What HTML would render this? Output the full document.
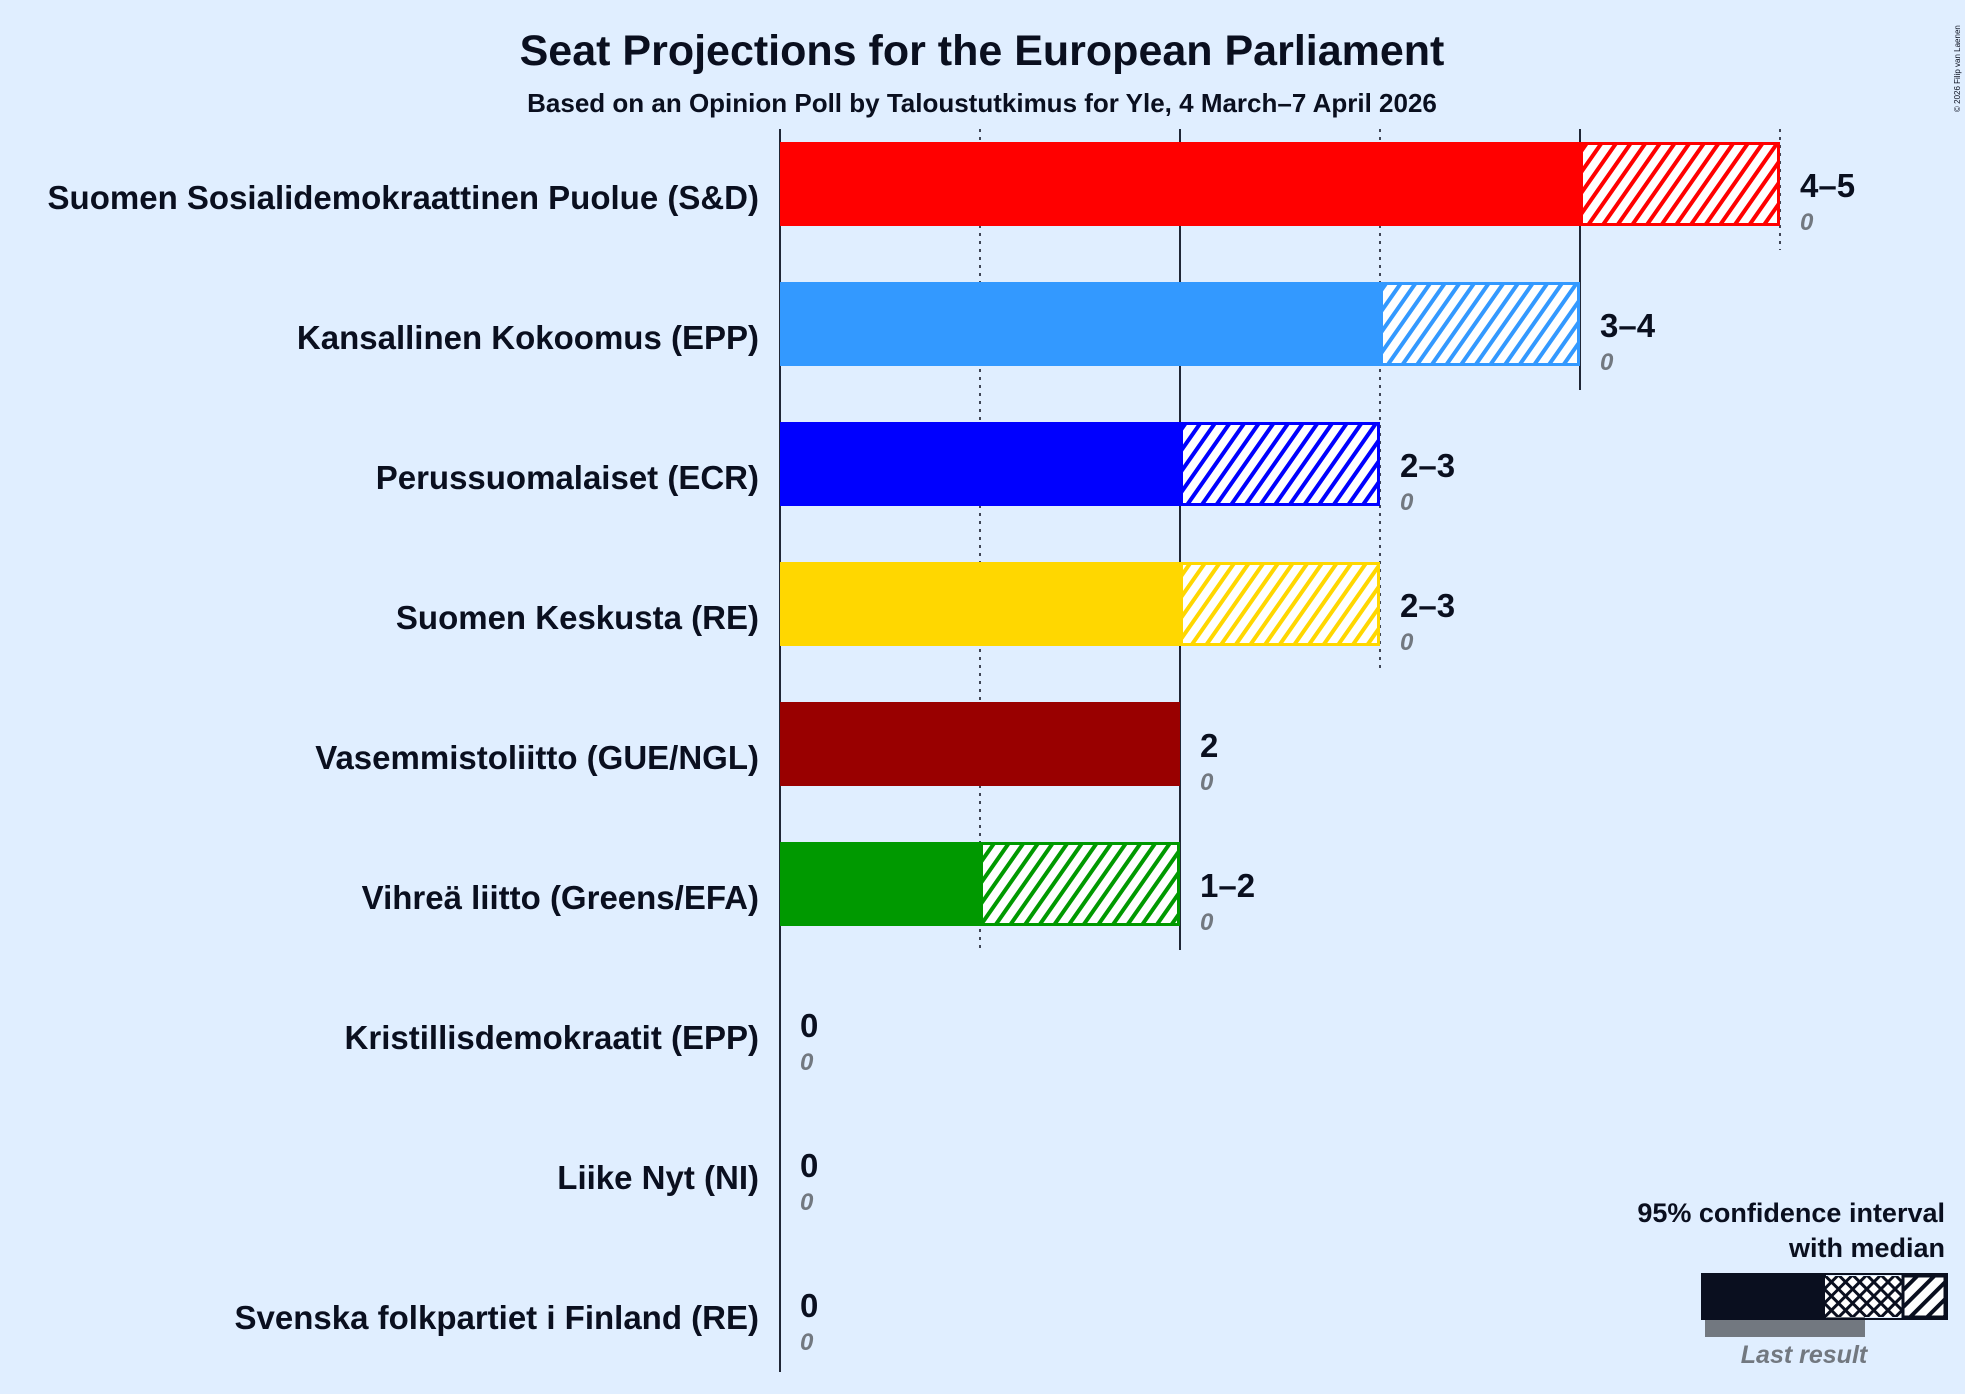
<!DOCTYPE html>
<html><head><meta charset="utf-8">
<style>
html,body{margin:0;padding:0;background:#E0EEFF;}
svg{display:block;font-family:"Liberation Sans",sans-serif;}
</style></head>
<body>
<svg id="chart" width="1965" height="1394" viewBox="0 0 1965 1394" xmlns="http://www.w3.org/2000/svg">
<defs>
<pattern id="hx" patternUnits="userSpaceOnUse" width="12" height="12" patternTransform="rotate(45)"><rect width="12" height="12" fill="#fff"/><rect width="4" height="12" fill="#0a0f1f"/></pattern>
<pattern id="cross" patternUnits="userSpaceOnUse" width="10" height="10" patternTransform="rotate(45)"><rect width="10" height="10" fill="#0a0f1f"/><rect x="3" y="3" width="7" height="7" fill="#fff"/></pattern>
</defs>
<rect width="1965" height="1394" fill="#E0EEFF"/>
<text x="982" y="65" text-anchor="middle" font-size="43" font-weight="bold" fill="#0a0f1f">Seat Projections for the European Parliament</text>
<text x="982" y="112" text-anchor="middle" font-size="26" font-weight="bold" fill="#0a0f1f">Based on an Opinion Poll by Taloustutkimus for Yle, 4 March–7 April 2026</text>
<text transform="translate(1960,112) rotate(-90)" font-size="8" fill="#0a0f1f">© 2026 Filip van Laenen</text>
<g id="grid"></g>
<g id="bars"></g>
<g>
<text x="1945" y="1222" text-anchor="end" font-size="27" font-weight="bold" fill="#0a0f1f">95% confidence interval</text>
<text x="1945" y="1257" text-anchor="end" font-size="27" font-weight="bold" fill="#0a0f1f">with median</text>
<rect x="1705" y="1315" width="160" height="22" fill="#727880"/>
<rect x="1702" y="1274" width="124" height="45" fill="#0a0f1f"/>
<rect x="1825" y="1276" width="78" height="41" fill="url(#cross)"/>
<rect x="1903" y="1276" width="42" height="41" fill="url(#hx)" stroke="#0a0f1f" stroke-width="3"/>
<rect x="1702" y="1274" width="245" height="45" fill="none" stroke="#0a0f1f" stroke-width="2"/>
<text x="1804" y="1363" text-anchor="middle" font-size="25" font-style="italic" font-weight="bold" fill="#727880">Last result</text>
</g>
</svg>
<script>
const parties = ["Suomen Sosialidemokraattinen Puolue (S&D)","Kansallinen Kokoomus (EPP)","Perussuomalaiset (ECR)","Suomen Keskusta (RE)","Vasemmistoliitto (GUE/NGL)","Vihreä liitto (Greens/EFA)","Kristillisdemokraatit (EPP)","Liike Nyt (NI)","Svenska folkpartiet i Finland (RE)"];
const lowSeats = [4,3,2,2,2,1,0,0,0];
const highSeats = [5,4,3,3,2,2,0,0,0];
const lastResult = [0,0,0,0,0,0,0,0,0];
const colors = ["#FF0000","#3399FF","#0000FF","#FFD700","#990000","#009900","#0a0f1f","#0a0f1f","#0a0f1f"];
const ticks = [0,1,2,3,4,5];

const NS="http://www.w3.org/2000/svg";
const x0=780, unit=200, rowTop=142, rowStep=140, barH=84;
const xs=v=>x0+v*unit;
const ys=i=>rowTop+i*rowStep;
function mk(tag,attrs,parent){const e=document.createElementNS(NS,tag);for(const k in attrs)e.setAttribute(k,attrs[k]);parent.appendChild(e);return e;}
const grid=document.getElementById('grid'), bars=document.getElementById('bars'), defs=document.querySelector('defs');

ticks.forEach(t=>{
  let last=-1; highSeats.forEach((h,i)=>{if(h>=t)last=i;});
  const yb = t===0 ? 1372 : ys(last)+barH+24;
  const ln=mk('line',{x1:xs(t),x2:xs(t),y1:129,y2:yb,stroke:'#0a0f1f','stroke-width':t%2===0?1.8:1.5},grid);
  if(t%2===1) ln.setAttribute('stroke-dasharray','3,5');
  
  
});

parties.forEach((p,i)=>{
  const y=ys(i), c=colors[i];
  const lab=mk('text',{x:759,y:y+67,'text-anchor':'end','font-size':33,'font-weight':'bold',fill:'#0a0f1f'},bars);
  lab.textContent=p;
  
  
  if(highSeats[i]>0){
    const pat=mk('pattern',{id:'h'+i,patternUnits:'userSpaceOnUse',width:12,height:12,patternTransform:'rotate(35)'},defs);
    mk('rect',{width:12,height:12,fill:'#fff'},pat);
    mk('rect',{width:4,height:12,fill:c},pat);
    if(highSeats[i]>lowSeats[i]){
      const h=mk('rect',{x:xs(lowSeats[i])+1.5,y:y+1.5,width:xs(highSeats[i])-xs(lowSeats[i])-3,height:barH-3,fill:'url(#h'+i+')',stroke:c,'stroke-width':3},bars);
      
      
    }
    if(lowSeats[i]>0){
      const s=mk('rect',{x:xs(0),y:y,width:xs(lowSeats[i])-xs(0),height:barH,fill:c},bars);
      
      
    }
  }
  const lx=xs(highSeats[i])+20;
  const r=mk('text',{x:lx,y:y+55,'font-size':33,'font-weight':'bold',fill:'#0a0f1f'},bars);
  r.textContent= lowSeats[i]===highSeats[i] ? String(lowSeats[i]) : lowSeats[i]+'–'+highSeats[i];
  
  
  const lr=mk('text',{x:lx,y:y+88,'font-size':24,'font-style':'italic','font-weight':'bold',fill:'#727880'},bars);
  lr.textContent=String(lastResult[i]);
  
  
});
</script>
</body></html>
